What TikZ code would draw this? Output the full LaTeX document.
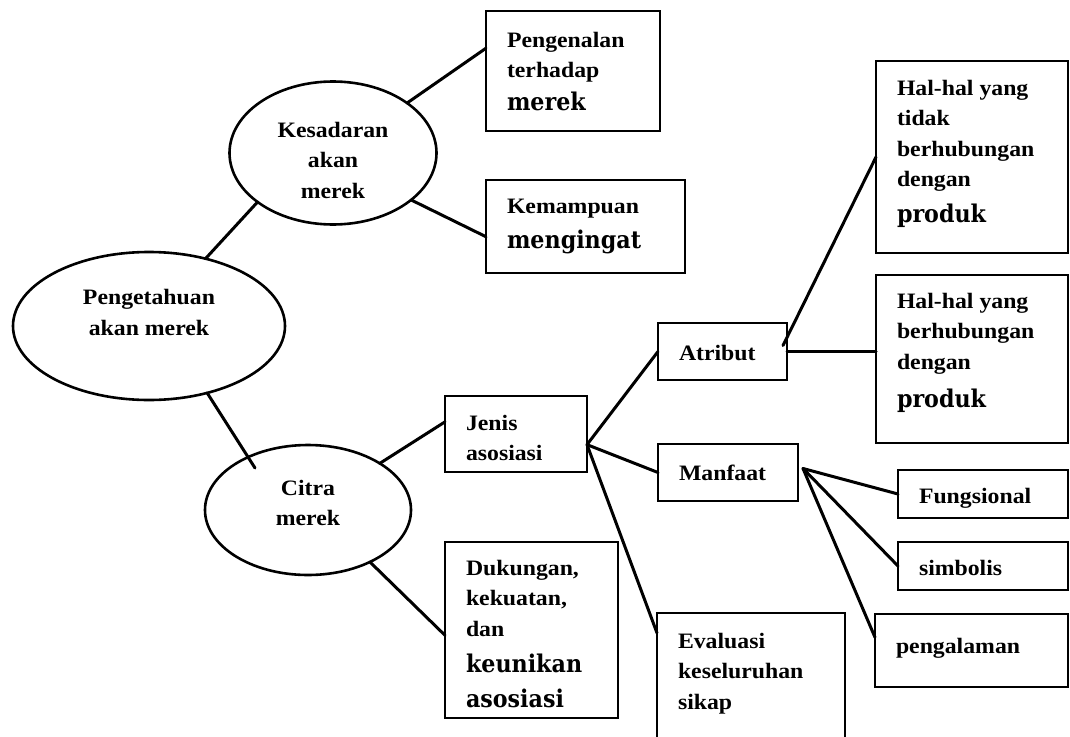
\documentclass[tikz,border=0pt]{standalone}
\usepackage{fontspec}
\usetikzlibrary{shapes.geometric,calc}
% Two heavy faces: a Times-like face for ordinary words, a wide serif for the key words
\newfontfamily\smallfnt{Liberation Serif}[FakeStretch=1.08]
\newfontfamily\largefnt{DejaVu Serif}[FakeStretch=0.91]
\newcommand\txtS{\smallfnt\bfseries\fontsize{22}{30.5}\selectfont}
\newcommand\txtL{\largefnt\bfseries\fontsize{24.4}{30.5}\selectfont}
% #1 text width, #2 box height, #3 first baseline below the top edge, #4 lines
\newcommand\boxtxt[4]{\parbox[t][#2][t]{#1}{\raggedright\txtS\rule{0pt}{#3}#4}}

\begin{document}
\begin{tikzpicture}[x=1pt,y=-1pt,
  conn/.style={line width=3pt,line cap=round},
  rect/.style={draw,line width=2.6pt,rectangle,inner xsep=21pt,inner ysep=0pt,
               outer sep=0pt,anchor=north west},
  oval/.style={draw,line width=2.6pt,ellipse,inner sep=0pt,outer sep=0pt,
               align=center,font=\txtS}]

\fill[white] (0,0) rectangle (1070,736);
\clip (0,0) rectangle (1070,736);

% ---- ellipses ----
\node[oval,minimum width=207pt,minimum height=143pt] (kesadaran) at (333,153)
  {\rule{0pt}{30pt}Kesadaran\\akan\\merek};
\node[oval,minimum width=272pt,minimum height=148pt] (pengetahuan) at (149,326)
  {Pengetahuan\\akan merek\rule[-27pt]{0pt}{0pt}};
\node[oval,minimum width=206pt,minimum height=130pt] (citra) at (308,510)
  {Citra\\merek\rule[-14.5pt]{0pt}{0pt}};

% ---- boxes ----
\node[rect] (pengenalan) at (486,11)
  {\boxtxt{132pt}{120pt}{36pt}{Pengenalan\\terhadap\\[2pt]{\txtL merek}}};
\node[rect] (kemampuan) at (486,180)
  {\boxtxt{157pt}{93pt}{33pt}{Kemampuan\\[4.5pt]{\txtL mengingat}}};
\node[rect] (haltidak) at (876,61)
  {\boxtxt{150pt}{192pt}{34pt}{Hal-hal yang\\tidak\\berhubungan\\dengan\\[5pt]{\txtL produk}}};
\node[rect] (halya) at (876,275)
  {\boxtxt{150pt}{168pt}{33pt}{Hal-hal yang\\berhubungan\\dengan\\[7.5pt]{\txtL produk}}};
\node[rect] (atribut) at (658,323)
  {\boxtxt{87pt}{57pt}{37pt}{Atribut}};
\node[rect] (jenis) at (445,396)
  {\boxtxt{100pt}{76pt}{34pt}{Jenis\\asosiasi}};
\node[rect] (manfaat) at (658,444)
  {\boxtxt{98pt}{57pt}{36pt}{Manfaat}};
\node[rect] (dukungan) at (445,542)
  {\boxtxt{131pt}{176pt}{33pt}{Dukungan,\\kekuatan,\\dan\\[6pt]{\txtL keunikan}\\[4pt]{\txtL asosiasi}}};
\node[rect] (evaluasi) at (657,613)
  {\boxtxt{146pt}{140pt}{35pt}{Evaluasi\\keseluruhan\\sikap}};
\node[rect] (fungsional) at (898,470)
  {\boxtxt{128pt}{48pt}{33pt}{Fungsional}};
\node[rect] (simbolis) at (898,542)
  {\boxtxt{128pt}{48pt}{33pt}{simbolis}};
\node[rect] (pengalaman) at (875,614)
  {\boxtxt{151pt}{73pt}{39pt}{pengalaman}};

% ---- connectors ----
\draw[conn] (pengetahuan.50) -- (kesadaran.213);
\draw[conn] (pengetahuan.-49) -- ([shift={(-53pt,42pt)}]citra.center);
\draw[conn] (kesadaran.34) -- ($(pengenalan.north west)!0.31!(pengenalan.south west)$);
\draw[conn] (kesadaran.-31) -- ($(kemampuan.north west)!0.61!(kemampuan.south west)$);
\draw[conn] (citra.33) -- ($(jenis.north west)!0.34!(jenis.south west)$);
\draw[conn] (citra.-40) -- ($(dukungan.north west)!0.53!(dukungan.south west)$);

\coordinate (jfan) at ($(jenis.north east)!0.64!(jenis.south east)$);
\draw[conn] (jfan) -- (atribut.west);
\draw[conn] (jfan) -- (manfaat.west);
\draw[conn] (jfan) -- ([yshift=-20pt]evaluasi.north west);

\draw[conn] ([xshift=-4pt,yshift=6pt]atribut.east) -- (haltidak.west);
\draw[conn] (atribut.east) -- (atribut.east -| halya.west);

\coordinate (mfan) at ([xshift=5pt,yshift=4pt]manfaat.east);
\draw[conn] (mfan) -- (fungsional.west);
\draw[conn] (mfan) -- (simbolis.west);
\draw[conn] (mfan) -- ($(pengalaman.north west)!0.32!(pengalaman.south west)$);
\end{tikzpicture}
\end{document}
